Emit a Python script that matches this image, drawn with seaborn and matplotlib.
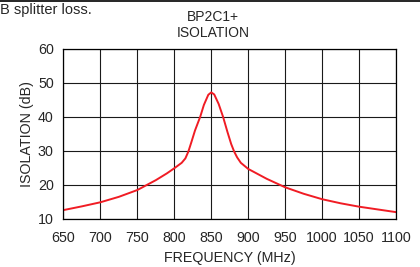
import pandas as pd
import matplotlib
matplotlib.use("Agg")
import matplotlib.pyplot as plt
import seaborn as sns

# isolation curve
freq = [650, 675, 700, 725, 750, 775, 790, 800, 810, 815, 819, 823, 828, 835, 840, 846, 850,
        854, 860, 866, 872, 877, 881, 885, 890, 900, 925, 950, 975, 1000, 1025, 1050, 1075, 1100]
iso = [12.6, 13.7, 14.9, 16.5, 18.5, 21.4, 23.4, 24.9, 26.5, 27.8, 29.8, 32.5, 36.0, 40.0, 43.5, 46.5, 47.2,
       46.6, 43.8, 40.0, 35.5, 32.0, 29.8, 28.1, 26.5, 24.7, 21.8, 19.3, 17.4, 15.8, 14.6, 13.6, 12.8, 12.0]
xticks = [650, 700, 750, 800, 850, 900, 950, 1000, 1050, 1100]
yticks = [10, 20, 30, 40, 50, 60]

df = pd.DataFrame({"freq": freq, "iso": iso})

sns.set_style("white")
plt.rcParams['font.family'] = ['Liberation Sans', 'DejaVu Sans']

fig = plt.figure(figsize=(4.2, 2.67), dpi=100)
ax = fig.add_axes([0.151, 0.180, 0.792, 0.637])

sns.lineplot(data=df, x="freq", y="iso", ax=ax, color="#f01c24", linewidth=1.4)

ax.set_xlim(650, 1100)
ax.set_ylim(10, 60)
ax.set_xticks(xticks)
ax.set_yticks(yticks)
ax.grid(True, color="#1a1a1a", linewidth=0.8)
for s in ax.spines.values():
    s.set_color("black")
    s.set_linewidth(0.9)
ax.tick_params(axis="both", direction="out", length=3.5, width=0.8, color="black",
               labelsize=10.3)
ax.tick_params(axis="x", pad=5)
ax.tick_params(axis="y", pad=3.5)
ax.set_xlabel("FREQUENCY (MHz)", fontsize=10.3, labelpad=4.5)
ax.set_ylabel("ISOLATION (dB)", fontsize=10.3, labelpad=3)

fig.text(0.508, 0.935, "BP2C1+", ha="center", va="center", fontsize=10)
fig.text(0.508, 0.876, "ISOLATION", ha="center", va="center", fontsize=10)
fig.text(0.0, 0.962, "B splitter loss.", ha="left", va="center", fontsize=10.5)
fig.add_artist(plt.Line2D([0, 1], [0.998, 0.998], color="black", linewidth=1.2,
                          transform=fig.transFigure))

fig.savefig("out.png", dpi=100)
